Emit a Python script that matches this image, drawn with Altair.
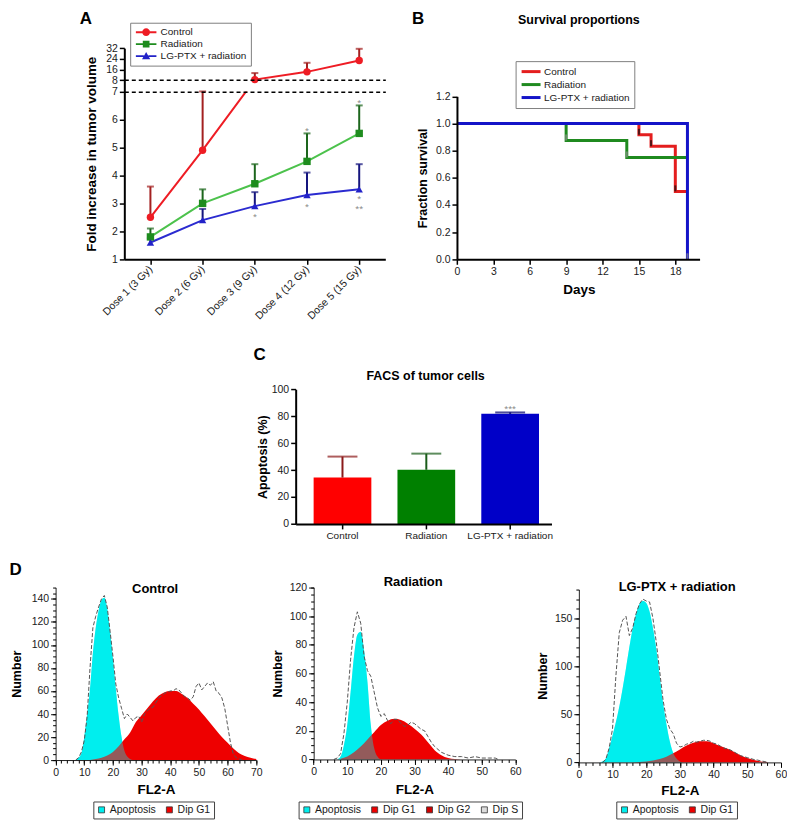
import altair as alt
import pandas as pd

FONT = "Liberation Sans"
S = 0.98
W, H = 779, 815


def P(v):
    return round(S * v, 2)


# ---------------- Panel A : fold increase in tumour volume ----------------
A_DOSES = ["Dose 1 (3 Gy)", "Dose 2 (6 Gy)", "Dose 3 (9 Gy)", "Dose 4 (12 Gy)", "Dose 5 (15 Gy)"]
A_SERIES = ["Control", "Radiation", "LG-PTX + radiation"]
A_CTRL_MEAN = [2.5, 4.9, 8.4, 14.2, 22.7]
A_CTRL_TOP = [3.6, 7.0, 13.3, 21.0, 31.5]
A_RAD_MEAN = [1.8, 3.0, 3.7, 4.5, 5.5]
A_RAD_TOP = [2.1, 3.5, 4.4, 5.5, 6.5]
A_LG_MEAN = [1.6, 2.4, 2.9, 3.3, 3.5]
A_LG_TOP = [1.75, 2.8, 3.4, 4.1, 4.4]
A_STAR_DOSE = ["Dose 4 (12 Gy)", "Dose 5 (15 Gy)", "Dose 3 (9 Gy)", "Dose 4 (12 Gy)", "Dose 5 (15 Gy)", "Dose 5 (15 Gy)"]
A_STAR_Y = [5.7, 6.69, 2.61, 2.96, 3.27, 2.9]
A_STAR_TEXT = ["*", "*", "*", "*", "*", "**"]
A_YTICKS = [1, 2, 3, 4, 5, 6, 7, 8, 16, 24, 32]
A_BREAK = [7, 8]
A_LINE_COLORS = ["#ee1c24", "#4cc24c", "#2b2bd0"]
A_MARK_COLORS = ["#ee1c24", "#1e8c1e", "#2222c8"]
A_ERR_COLORS = ["#a32020", "#1d661d", "#15157e"]
A_SHAPES = ["circle", "square", "triangle-up"]
A_LEG_PATHS = [
    "M-2,-0.18H-0.72V0.18H-2Z M0.72,-0.18H2V0.18H0.72Z M0.75,0A0.75,0.75 0 1,1 -0.75,0A0.75,0.75 0 1,1 0.75,0Z",
    "M-2,-0.18H-0.64V0.18H-2Z M0.64,-0.18H2V0.18H0.64Z M-0.65,-0.65H0.65V0.65H-0.65Z",
    "M-2,-0.18H-0.44V0.18H-2Z M0.44,-0.18H2V0.18H0.44Z M0,-0.8L0.8,0.6H-0.8Z",
]

# ---------------- Panel B : survival ----------------
B_SERIES = ["Control", "Radiation", "LG-PTX + radiation"]
B_CTRL_DAY = [0, 15, 16, 18, 19]
B_CTRL_SURV = [1.0, 0.917, 0.833, 0.5, 0.5]
B_RAD_DAY = [0, 9, 14, 19]
B_RAD_SURV = [1.0, 0.875, 0.75, 0.75]
B_LG_DAY = [0, 19, 19]
B_LG_SURV = [1.0, 1.0, 0.0]
B_CENS_DARK_DAY = [15, 16, 18]
B_CENS_DARK_SURV = [0.917, 0.833, 0.5]
B_CENS_GRAY_DAY = [9, 14, 19]
B_CENS_GRAY_SURV = [0.875, 0.75, 0.0]
B_COLORS = ["#e41e1e", "#1f8a1f", "#1414c8"]
B_XTICKS = [0, 3, 6, 9, 12, 15, 18]
B_YTICKS = [0, 0.2, 0.4, 0.6, 0.8, 1.0, 1.2]

# ---------------- Panel C : FACS ----------------
C_GROUPS = ["Control", "Radiation", "LG-PTX + radiation"]
C_MEAN = [34.4, 40.2, 81.8]
C_TOP = [50.0, 52.2, 82.8]
C_STAR_GROUP = ["LG-PTX + radiation"]
C_STAR_Y = [87.7]
C_STAR_TEXT = ["***"]
C_BAR_COLORS = ["#ff0000", "#008000", "#0000c8"]
C_ERR_COLORS = ["#8b1a1a", "#1a5c1a", "#00006e"]
C_YTICKS = [0, 20, 40, 60, 80, 100]

# ---------------- Panel D : cell-cycle histograms ----------------
CYAN = "#00eeee"
RED = "#ee0000"
D1_APOP_X = list(range(7, 28))
D1_APOP_Y = [0, 2, 6, 20, 40, 62, 93, 115, 130, 139, 141, 132, 112, 88, 62, 38, 20, 8, 3, 1, 0]
D1_G1_X = list(range(12, 71, 2))
D1_G1_Y = [0, 1, 2, 4, 7, 12, 18, 24, 33, 39, 45, 51, 56, 59, 60, 60, 57.5, 54, 49, 44,
           38, 32, 26, 20, 15, 10, 6, 3.5, 2, 0.8]
D1_RAW_X = list(range(7, 66))
D1_RAW_Y = [0, 2, 7, 17, 38, 80, 115, 125, 133, 140, 143, 133, 112, 90, 66, 54, 45, 36, 40, 37,
            34, 37, 38, 33, 40, 43, 45, 46, 50, 54, 56, 58, 59, 60, 60, 62, 61, 58, 55, 54,
            52, 55, 64, 67, 61, 64, 67, 65, 68, 60, 58, 54, 45, 30, 15, 5, 2, 1, 0]

D2_APOP_X = list(range(7, 21))
D2_APOP_Y = [0, 2, 10, 24, 47, 72, 87, 89, 76, 54, 24, 8, 2, 0]
D2_G1_X = list(range(8, 45, 2))
D2_G1_Y = [0.5, 2, 5, 9, 14, 19, 24, 27, 28.4, 27.5, 25, 21.5, 17.5, 12, 6.5, 3, 1, 0.3, 0]
D2_RAW_X = list(range(6, 41)) + [42, 44, 46, 48, 50, 52, 54, 55]
D2_RAW_Y = [0, 1, 4, 18, 40, 70, 92, 103, 95, 72, 62, 58, 47, 36, 30, 32, 27, 25, 28, 28,
            25, 23, 24, 26, 25, 23, 21, 20, 16, 12, 9, 7, 5, 4, 3, 2, 2, 1, 2, 1, 1, 1, 0]

D3_APOP_X = list(range(6, 32))
D3_APOP_Y = [0, 1, 4, 15, 28, 42, 58, 77, 98, 120, 140, 155, 165, 168, 166, 157, 140, 118, 90, 62,
             40, 22, 10, 4, 1, 0]
D3_G1_X = list(range(16, 57, 2))
D3_G1_Y = [0, 0.5, 1, 2, 3.5, 6, 9.5, 13.5, 17.5, 20.5, 22, 22, 20, 17, 14.5, 11, 7.5, 4.5, 2.5, 1, 0.3]
D3_RAW_X = list(range(7, 57))
D3_RAW_Y = [0, 3, 15, 35, 90, 135, 148, 152, 132, 140, 155, 165, 170, 168, 167, 150, 125, 95, 65, 45,
            35, 30, 20, 16, 17, 19, 20, 22, 21, 22, 23, 23, 22, 20, 19, 17, 15, 14, 13, 11,
            9, 7, 6, 5, 4, 3, 2.5, 1.5, 1, 0]


# ---------------- helpers ----------------
def annot_axis(orient, text, x, y, size, align="center"):
    return alt.Axis(orient=orient, offset=0, title=text, titleX=x, titleY=y, titleAngle=0,
                    titleAlign=align, titleBaseline="alphabetic", titleFontSize=size,
                    titleFontWeight="bold", titleColor="black", labels=False, ticks=False,
                    domain=False, grid=False)


# ================= Panel A =================
rows = []
for s, m, t in zip(A_SERIES, [A_CTRL_MEAN, A_RAD_MEAN, A_LG_MEAN], [A_CTRL_TOP, A_RAD_TOP, A_LG_TOP]):
    for i, d in enumerate(A_DOSES):
        rows.append({"series": s, "dose": d, "di": i, "mean": m[i], "top": t[i]})
df_a = pd.DataFrame(rows)
df_a_star = pd.DataFrame({"dose": A_STAR_DOSE, "y": A_STAR_Y, "txt": A_STAR_TEXT})
df_a_gap = pd.DataFrame({"d1": [A_DOSES[1]], "d2": [A_DOSES[2]], "lo": [A_BREAK[0]], "hi": [A_BREAK[1]]})

a_x = alt.Scale(type="point", domain=A_DOSES, range=[P(119), P(386)], padding=0.5)
a_y = alt.Scale(type="linear", domain=[1, 7, 8, 32], range=[P(256), P(84.3), P(72.7), P(40)],
                zero=False, nice=False)
a_stroke = alt.Scale(domain=A_SERIES, range=A_LINE_COLORS)
a_fill = alt.Scale(domain=A_SERIES, range=A_MARK_COLORS)
a_err = alt.Scale(domain=A_SERIES, range=A_ERR_COLORS)
a_shape = alt.Scale(domain=A_SERIES, range=A_LEG_PATHS)
a_leg = alt.Legend(orient="none", legendX=P(125), legendY=P(14), title=None, padding=4, rowPadding=1,
                   symbolSize=106, symbolStrokeWidth=0, symbolOffset=6.5, labelOffset=9,
                   labelFontSize=10, strokeColor="#808080", fillColor="white")

AXN = alt.X("dose:N", scale=a_x, axis=None)
AYN = alt.Y("mean:Q", scale=a_y, axis=None)

a_lines = alt.Chart(df_a).mark_line(strokeWidth=2).encode(
    x=alt.X("dose:N", scale=a_x, axis=alt.Axis(
        orient="bottom", offset=P(256) - H, labelAngle=315, labelAlign="right", labelBaseline="middle",
        labelPadding=3, labelFontSize=10.5, tickSize=5, tickWidth=1.5, domainWidth=2, zindex=1, title=None)),
    y=alt.Y("mean:Q", scale=a_y, axis=alt.Axis(
        orient="left", offset=-P(119), values=A_YTICKS, labelFontSize=10.5, tickSize=5, tickWidth=1.5,
        domainWidth=2, zindex=1, title="Fold increase in tumor volume", titleX=P(89.3) - P(119),
        titleY=P(148), titleAngle=270, titleAlign="center", titleBaseline="alphabetic",
        titleFontSize=13.5)),
    stroke=alt.Stroke("series:N", scale=a_stroke, legend=None),
    order="di:Q",
)
a_mask = alt.Chart(df_a_gap).mark_rect(color="white").encode(
    x=alt.X("d1:N", scale=a_x, axis=None), x2="d2",
    y=alt.Y("lo:Q", scale=a_y, axis=None), y2="hi")
a_errs = alt.Chart(df_a).mark_rule(strokeWidth=2).encode(
    x=AXN, y=AYN, y2="top:Q", color=alt.Color("series:N", scale=a_err, legend=None))
a_caps = alt.Chart(df_a).mark_tick(orient="horizontal", size=7, thickness=2).encode(
    x=AXN, y=alt.Y("top:Q", scale=a_y, axis=None), color=alt.Color("series:N", scale=a_err, legend=None))
# legend layer first (draws nothing), so its legend definition leads the merge
a_legend = alt.Chart(df_a).transform_filter("false").mark_point(filled=True, opacity=1).encode(
    fill=alt.Fill("series:N", scale=a_fill, legend=a_leg),
    shape=alt.Shape("series:N", scale=a_shape, legend=a_leg))
a_pts = [
    alt.Chart(df_a).transform_filter(alt.datum.series == s).mark_point(
        filled=True, shape=shp, size=55, opacity=1).encode(
        x=AXN, y=AYN, fill=alt.Fill("series:N", scale=a_fill, legend=a_leg))
    for s, shp in zip(A_SERIES, A_SHAPES)
]
a_star = alt.Chart(df_a_star).mark_text(color="#8a8a8a", fontSize=10, dy=3, font=FONT).encode(
    x=AXN, y=alt.Y("y:Q", scale=a_y, axis=None), text="txt:N")
a_ann = alt.Chart(df_a).mark_point(opacity=0).encode(
    x=AXN,
    y=alt.Y("mean:Q", scale=a_y, axis=alt.Axis(
        orient="left", offset=-P(119), values=A_BREAK, grid=True, gridDash=[4, 3], gridColor="black",
        gridWidth=1.5, labels=False, ticks=False, domain=False, zindex=1, title="A",
        titleX=P(73) - P(119), titleY=P(14.3), titleAngle=0, titleAlign="left",
        titleBaseline="alphabetic", titleFontSize=17, titleFontWeight="bold", titleColor="black")))

panel_a = alt.layer(a_legend, a_lines, a_mask, a_errs, a_caps, *a_pts, a_star, a_ann).resolve_axis(
    x="independent", y="independent")

# ================= Panel B =================
rows = []
for s, dd, vv in zip(B_SERIES, [B_CTRL_DAY, B_RAD_DAY, B_LG_DAY], [B_CTRL_SURV, B_RAD_SURV, B_LG_SURV]):
    for i, (d, v) in enumerate(zip(dd, vv)):
        rows.append({"series": s, "day": d, "surv": v, "idx": i})
df_b = pd.DataFrame(rows)
df_b_dark = pd.DataFrame({"day": B_CENS_DARK_DAY, "surv": B_CENS_DARK_SURV})
df_b_gray = pd.DataFrame({"day": B_CENS_GRAY_DAY, "surv": B_CENS_GRAY_SURV})

b_x = alt.Scale(domain=[0, 20], range=[P(459.3), P(707.5)], zero=False, nice=False)
b_y = alt.Scale(domain=[0, 1.2], range=[P(256), P(89.3)], zero=False, nice=False)
b_col = alt.Scale(domain=B_SERIES, range=B_COLORS)
b_leg = alt.Legend(orient="none", legendX=P(519.3), legendY=P(53.3), title=None, padding=4, rowPadding=0,
                   symbolType="M-2,0H2", symbolSize=90, symbolStrokeWidth=3, symbolOffset=5,
                   labelOffset=6.5, labelFontSize=10, strokeColor="#808080", fillColor="white")

b_lines = alt.Chart(df_b).mark_line(interpolate="step-after", strokeWidth=3).encode(
    x=alt.X("day:Q", scale=b_x, axis=alt.Axis(
        orient="bottom", offset=P(256) - H, values=B_XTICKS, labelFontSize=10.5, tickSize=5, tickWidth=1.5,
        domainWidth=2, zindex=1, title="Days", titleX=P(584), titleY=P(291) - P(256),
        titleAlign="center", titleBaseline="alphabetic", titleFontSize=13.5)),
    y=alt.Y("surv:Q", scale=b_y, axis=alt.Axis(
        orient="left", offset=-P(459.3), values=B_YTICKS, format=".1f", labelFontSize=10.5, tickSize=5,
        tickWidth=1.5, domainWidth=2, zindex=1, title="Fraction survival", titleX=P(428.3) - P(459.3),
        titleY=P(172.7), titleAngle=270, titleAlign="center", titleBaseline="alphabetic",
        titleFontSize=12.5)),
    color=alt.Color("series:N", scale=b_col, legend=b_leg),
    order="idx:Q",
)
b_dark = alt.Chart(df_b_dark).mark_tick(orient="vertical", size=6, thickness=2, yOffset=-3, color="#111111").encode(
    x=alt.X("day:Q", scale=b_x, axis=None), y=alt.Y("surv:Q", scale=b_y, axis=None))
b_gray = alt.Chart(df_b_gray).mark_tick(orient="vertical", size=6, thickness=2, yOffset=-3, color="#8c8c8c").encode(
    x=alt.X("day:Q", scale=b_x, axis=None), y=alt.Y("surv:Q", scale=b_y, axis=None))
b_ann = alt.Chart(df_b).mark_point(opacity=0).encode(
    x=alt.X("day:Q", scale=b_x, axis=annot_axis("top", "Survival proportions", P(583.5), P(15), 12.5)),
    y=alt.Y("surv:Q", scale=b_y, axis=annot_axis("left", "B", P(412.7), P(15), 17, "left")))
panel_b = alt.layer(b_lines, b_dark, b_gray, b_ann).resolve_axis(x="independent", y="independent")

# ================= Panel C =================
df_c = pd.DataFrame({"group": C_GROUPS, "mean": C_MEAN, "top": C_TOP})
df_c_star = pd.DataFrame({"group": C_STAR_GROUP, "y": C_STAR_Y, "txt": C_STAR_TEXT})
c_x = alt.Scale(type="band", domain=C_GROUPS, range=[P(294.3), P(556)], paddingInner=0.3116,
                paddingOuter=0.1815, align=0.59)
c_y = alt.Scale(domain=[0, 100], range=[P(526.7), P(389)], zero=False, nice=False)
c_fill = alt.Scale(domain=C_GROUPS, range=C_BAR_COLORS)
c_err = alt.Scale(domain=C_GROUPS, range=C_ERR_COLORS)
CXN = alt.X("group:N", scale=c_x, axis=None)

c_bars = alt.Chart(df_c).mark_bar().encode(
    x=alt.X("group:N", scale=c_x, axis=alt.Axis(
        orient="bottom", offset=P(526.7) - H, labelFontSize=10, labelAngle=0, tickSize=5, tickWidth=1.5,
        domainWidth=2, zindex=1, title=None)),
    y=alt.Y("mean:Q", scale=c_y, axis=alt.Axis(
        orient="left", offset=-P(294.3), values=C_YTICKS, labelFontSize=10.5, tickSize=5, tickWidth=1.5,
        domainWidth=2, zindex=1, title="Apoptosis (%)", titleX=P(264) - P(294.3), titleY=P(457.9),
        titleAngle=270, titleAlign="center", titleBaseline="alphabetic", titleFontSize=12.5)),
    y2=alt.datum(0),
    fill=alt.Fill("group:N", scale=c_fill, legend=None),
)
c_errs = alt.Chart(df_c).mark_rule(strokeWidth=2).encode(
    x=CXN, y=alt.Y("mean:Q", scale=c_y, axis=None), y2="top:Q",
    color=alt.Color("group:N", scale=c_err, legend=None))
c_caps = alt.Chart(df_c).mark_tick(orient="horizontal", size=P(30.6), thickness=2).encode(
    x=CXN, y=alt.Y("top:Q", scale=c_y, axis=None), color=alt.Color("group:N", scale=c_err, legend=None))
c_star = alt.Chart(df_c_star).mark_text(color="#8a8a8a", fontSize=10, dy=3, font=FONT).encode(
    x=CXN, y=alt.Y("y:Q", scale=c_y, axis=None), text="txt:N")
c_ann = alt.Chart(df_c).mark_point(opacity=0).encode(
    x=alt.X("group:N", scale=c_x, axis=annot_axis("top", "FACS of tumor cells", P(426.7), P(379), 12.5)),
    y=alt.Y("mean:Q", scale=c_y, axis=annot_axis("left", "C", P(250.7), P(358.3), 17, "left")))
panel_c = alt.layer(c_bars, c_errs, c_caps, c_star, c_ann).resolve_axis(x="independent", y="independent")


# ================= Panel D =================
def d_panel(xr, yr, xdom, ydom, xt, yt, xminor, yminor, cyan, red, raw, comps, comp_cols, leg_xy,
            heading, head_xy, ytitle_xy, xtitle_xy, letter=None, letter_xy=None):
    xs = alt.Scale(domain=xdom, range=[P(xr[0]), P(xr[1])], zero=False, nice=False)
    ys = alt.Scale(domain=ydom, range=[P(yr[0]), P(yr[1])], zero=False, nice=False)
    cs = alt.Scale(domain=comps, range=comp_cols)
    leg = alt.Legend(orient="none", legendX=P(leg_xy[0]), legendY=P(leg_xy[1]), direction="horizontal",
                     title=None, symbolType="square", symbolSize=36, symbolStrokeColor="#333333",
                     symbolStrokeWidth=0.8, labelFontSize=10.5, labelOffset=3, columnPadding=8, padding=3,
                     strokeColor="#444444", fillColor="white")
    df_cy = pd.DataFrame({"x": cyan[0], "y": cyan[1], "comp": comps[0]})
    df_rd = pd.DataFrame({"x": red[0], "y": red[1], "comp": comps[1]})
    df_raw = pd.DataFrame({"x": raw[0], "y": raw[1]})
    x0, y0 = P(xr[0]), P(yr[0])
    xaxis = alt.Axis(orient="bottom", offset=y0 - H, values=xt, zindex=1, labelFontSize=10.5, tickSize=5,
                     tickWidth=1, domainWidth=1, domainColor="#222222", title="FL2-A",
                     titleX=P(xtitle_xy[0]), titleY=P(xtitle_xy[1]) - y0, titleAlign="center",
                     titleBaseline="alphabetic", titleFontSize=13.5)
    yaxis = alt.Axis(orient="left", offset=-x0, values=yt, zindex=1, labelFontSize=10.5, tickSize=5,
                     tickWidth=1, domainWidth=1, domainColor="#222222", title="Number",
                     titleX=P(ytitle_xy[0]) - x0, titleY=P(ytitle_xy[1]), titleAngle=270,
                     titleAlign="center", titleBaseline="alphabetic", titleFontSize=12.5)
    XN = alt.X("x:Q", scale=xs, axis=None)
    YN = alt.Y("y:Q", scale=ys, axis=None, stack=None)
    cyan_area = alt.Chart(df_cy).mark_area(interpolate="monotone").encode(
        x=alt.X("x:Q", scale=xs, axis=xaxis), y=alt.Y("y:Q", scale=ys, axis=yaxis, stack=None),
        y2=alt.datum(0), color=alt.Color("comp:N", scale=cs, legend=leg))
    red_area = alt.Chart(df_rd).mark_area(interpolate="monotone").encode(
        x=XN, y=YN, y2=alt.datum(0), color=alt.Color("comp:N", scale=cs, legend=leg))
    overlay = alt.Chart(df_cy).mark_area(interpolate="monotone", color=CYAN, opacity=0.38).encode(
        x=XN, y=YN, y2=alt.datum(0))
    raw_line = alt.Chart(df_raw).mark_line(color="#555555", strokeWidth=1, strokeDash=[4, 2]).encode(
        x=XN, y=YN)
    minor = alt.Chart(df_raw).mark_point(opacity=0).encode(
        x=alt.X("x:Q", scale=xs, axis=alt.Axis(orient="bottom", offset=y0 - H, values=xminor, labels=False,
                                               domain=False, tickSize=3, tickWidth=1, title=None, zindex=1)),
        y=alt.Y("y:Q", scale=ys, axis=alt.Axis(orient="left", offset=-x0, values=yminor, labels=False,
                                               domain=False, tickSize=3, tickWidth=1, title=None, zindex=1)))
    if letter:
        ann_y = alt.Y("y:Q", scale=ys, axis=annot_axis("left", letter, P(letter_xy[0]), P(letter_xy[1]), 17, "left"))
    else:
        ann_y = YN
    ann = alt.Chart(df_raw).mark_point(opacity=0).encode(
        x=alt.X("x:Q", scale=xs, axis=annot_axis("top", heading, P(head_xy[0]), P(head_xy[1]), 13)),
        y=ann_y)
    return alt.layer(cyan_area, red_area, overlay, raw_line, minor, ann).resolve_axis(
        x="independent", y="independent")


panel_d1 = d_panel((48.7, 254), (768.3, 591.7), [0, 70], [0, 150], list(range(0, 71, 10)),
                   list(range(0, 141, 20)), list(range(0, 71, 2)), list(range(0, 151, 5)),
                   (D1_APOP_X, D1_APOP_Y), (D1_G1_X, D1_G1_Y), (D1_RAW_X, D1_RAW_Y),
                   ["Apoptosis", "Dip G1"], [CYAN, RED], (87.3, 810.7),
                   "Control", (150, 596.7), (13.3, 680), (151.4, 802.3), "D", (1, 578.3))
panel_d2 = d_panel((312.7, 519), (767.7, 591.7), [0, 60], [0, 120], list(range(0, 61, 10)),
                   list(range(0, 121, 20)), list(range(0, 61, 2)), list(range(0, 121, 5)),
                   (D2_APOP_X, D2_APOP_Y), (D2_G1_X, D2_G1_Y), (D2_RAW_X, D2_RAW_Y),
                   ["Apoptosis", "Dip G1", "Dip G2", "Dip S"], [CYAN, RED, "#cc0000", "#dcdcdc"],
                   (297.3, 810.7), "Radiation", (414, 590), (280, 679.7), (415.8, 802.3))
panel_d3 = d_panel((584, 790.7), (770.7, 593.8), [0, 60], [0, 180], list(range(0, 61, 10)),
                   [0, 50, 100, 150], list(range(0, 61, 2)), list(range(0, 181, 10)),
                   (D3_APOP_X, D3_APOP_Y), (D3_G1_X, D3_G1_Y), (D3_RAW_X, D3_RAW_Y),
                   ["Apoptosis", "Dip G1"], [CYAN, RED], (622.3, 810.7),
                   "LG-PTX + radiation", (684, 595), (550.7, 682), (687.3, 803.3))

chart = alt.layer(panel_a, panel_b, panel_c, panel_d1, panel_d2, panel_d3).properties(
    width=W, height=H, padding=0, background="white"
).resolve_scale(
    x="independent", y="independent", color="independent", fill="independent",
    stroke="independent", shape="independent"
).resolve_axis(
    x="independent", y="independent"
).configure_view(
    stroke=None
).configure_axis(
    labelFont=FONT, titleFont=FONT, labelColor="#1a1a1a", titleColor="black", domainColor="black",
    tickColor="black", grid=False, labelFlush=False, labelOverlap=False, titleFontWeight="bold"
).configure_legend(
    labelFont=FONT, labelColor="#1a1a1a"
).configure_text(font=FONT)

chart.save("out.html", embed_options={"renderer": "svg", "actions": False})
